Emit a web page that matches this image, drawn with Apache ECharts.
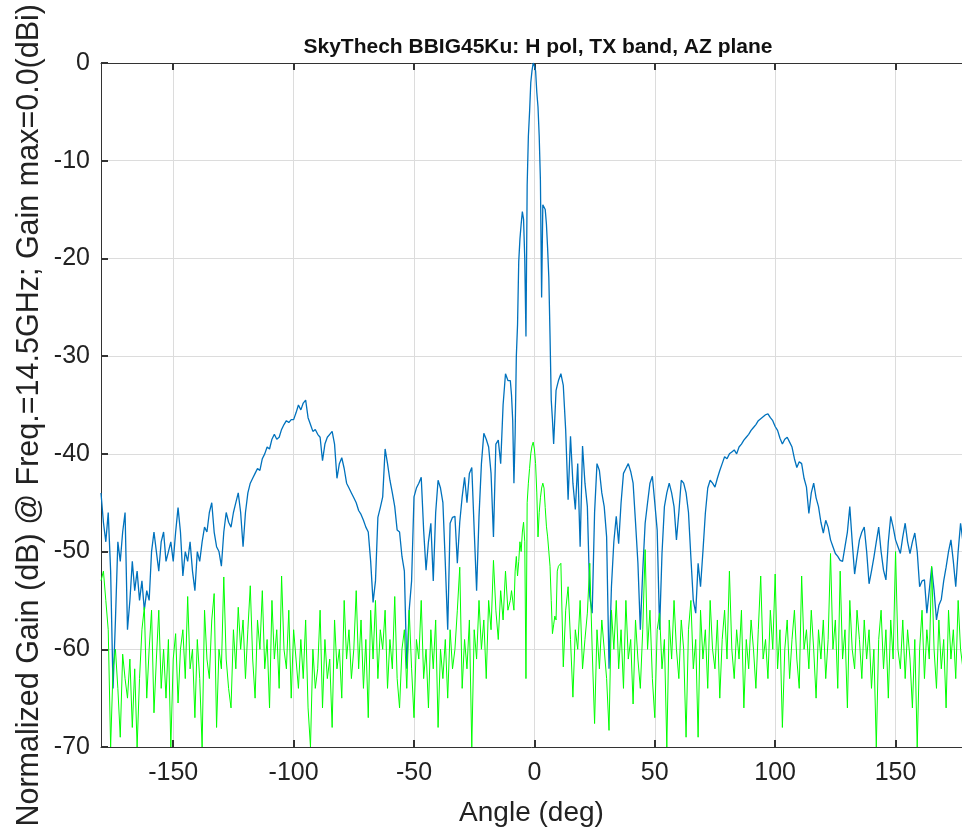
<!DOCTYPE html>
<html>
<head>
<meta charset="utf-8">
<title>SkyThech BBIG45Ku: H pol, TX band, AZ plane</title>
<script src="https://cdn.jsdelivr.net/npm/echarts@6/dist/echarts.min.js"></script>
<style>
  html, body { margin: 0; padding: 0; background: #fff; }
  #chart { width: 962px; height: 836px; }
</style>
</head>
<body>
<div id="chart"></div>
<script>
  // sample angles: 1 deg steps in the far field, 0.5 deg steps around the main beam
  const angles = []
  for (let a = -180; a <= -11; a++) angles.push(a)
  for (let a = -10; a <= 10; a += 0.5) angles.push(a)
  for (let a = 11; a <= 180; a++) angles.push(a)

  const xTicks = [-150, -100, -50, 0, 50, 100, 150]

  // co-pol (blue), -180 .. -11
  const coPolLeft = [
    -44, -47, -49, -46, -52, -64, -57, -49, -51, -48,
    -46, -58, -55, -51, -54, -52, -55, -53, -56, -54,
    -55, -50, -48, -50, -52, -49, -48, -51, -50, -49,
    -51, -48, -45.5, -48, -52.5, -50, -51, -49, -52, -54,
    -50, -51, -49, -47.5, -48, -46, -45, -48, -49.5, -50,
    -51.5, -48, -46, -47, -47.5, -46, -45, -44, -46, -49.5,
    -46, -44, -43, -42.5, -42, -41.5, -41.7, -40.5, -40, -39.3,
    -39.5, -38.5, -38, -38.5, -38.3, -37.5, -37, -36.6, -36.8, -36.5,
    -36.5, -35.8, -35, -35.5, -34.8, -34.5, -36.3, -37, -37.7, -37.5,
    -38, -38.3, -40.7, -39, -38.3, -38, -37.7, -39, -42.5, -41,
    -40.4, -41.5, -43, -43.5, -44, -44.5, -45, -45.8, -46.2, -46.8,
    -47.5, -48, -51, -55.2, -53, -46.5, -45.5, -44.4, -39.5, -41,
    -42.7, -44, -45.4, -47.8, -48, -50.5, -52, -62, -56, -53,
    -44.4, -43.5, -43, -42.4, -47.8, -51.9, -49, -47.1, -53, -46,
    -42.7, -43.5, -45, -51.2, -58, -47.1, -46.5, -46.4, -51.2, -47,
    -44.4, -42.4, -45, -42, -41.4, -47.8, -54, -46.4, -41, -37.9,
    -38.5, -39.3, -42, -48.5, -39, -38.6, -41, -35, -31.8, -32.5
  ]
  // co-pol, -10 .. 10 by 0.5
  const coPolCenter = [
    -32.5, -34, -36.6, -43, -38, -30, -26.8, -20.3, -18, -16.5,
    -15.2, -16, -20, -28, -12.5, -7.5, -5, -2, -0.8, 0,
    -0.3, -0.8, -3, -4.5, -7.5, -12, -24, -14.5, -14.3, -15,
    -16.5, -19, -22, -28, -34.5, -36.5, -39, -39.2, -33.5, -33,
    -32.5
  ]
  // co-pol, 11 .. 180
  const coPolRight = [
    -31.8, -33, -37.6, -44.7, -38.2, -43, -45.7, -41, -49.5, -39.2,
    -43, -45.4, -54.6, -56.3, -46, -41, -41.7, -44, -45.4, -48.5,
    -62, -53.6, -49, -46.4, -49.2, -45, -42, -41.5, -41, -41.8,
    -43, -47, -51.2, -58, -52, -47.1, -45, -43, -42.3, -45,
    -47.8, -58, -50.2, -45.4, -44, -43, -44, -45.4, -48.8, -46,
    -42.7, -43, -44, -46, -50.6, -55, -56.3, -51.2, -53.6, -50,
    -46.1, -43.5, -42.7, -43, -43.4, -42.5, -41.7, -41, -40.3, -40.5,
    -40, -39.8, -39.6, -40, -39.3, -39, -38.6, -38.3, -38, -37.6,
    -37.3, -37, -36.6, -36.4, -36.2, -36, -35.9, -36.3, -36.6, -37.2,
    -37.6, -38.4, -39, -38.5, -38.3, -38.8, -39.3, -40.5, -41.4, -40.8,
    -41, -42.5, -43.4, -46.1, -44, -43, -44.5, -45.4, -47, -48.1,
    -46.8, -47.5, -48.8, -49.5, -50.2, -50.5, -50.9, -51, -49.5, -48,
    -45.4, -49, -52.3, -50.5, -48.8, -48, -47.5, -50, -53.3, -52,
    -50.6, -49, -47.5, -50, -51.9, -52.9, -49, -46.4, -47.5, -48.8,
    -49.5, -50.2, -48.5, -47.1, -49, -50.2, -49, -48.1, -50, -53.6,
    -53, -52.9, -56.3, -54, -51.6, -54, -57, -55.5, -54.9, -53,
    -51.6, -50, -48.8, -51, -53.6, -50, -47.1, -49, -50.5, -52
  ]

  // cross-pol (green), -180 .. -11
  const xPolLeft = [
    -53, -52, -55, -58, -70, -62, -60, -64, -69, -60.5,
    -63, -65, -61, -68, -62, -70, -63, -58, -55.7, -65,
    -60, -56, -66.5, -61, -56, -64, -60, -65, -59, -70,
    -61, -58.4, -65.5, -60, -58, -63, -54.6, -62, -60, -67,
    -59, -63, -70, -56, -61, -63, -57, -54.3, -68, -60,
    -62, -52.6, -61, -64, -66, -58, -62, -55.7, -60, -57,
    -63, -58, -53.5, -61, -65, -57, -60, -54, -62, -59,
    -66, -55, -61, -58, -64, -52.5, -60, -62, -56, -65,
    -58, -61, -64, -59, -63, -57, -66, -70, -60, -64,
    -62, -56, -66, -59, -63, -61, -68, -57, -62, -60,
    -65, -55, -61, -58, -63, -60, -54, -62, -57, -64,
    -59, -67, -56, -61, -55, -63, -58, -60, -56, -64,
    -59, -62, -54.6, -63, -66, -60, -58, -64, -56, -62,
    -67, -59, -61, -55, -63, -60, -66, -58, -62, -57,
    -68, -60, -63, -59, -65, -58, -62, -60, -56, -51.6,
    -64, -59, -62, -57, -70, -58, -61, -55, -60, -57,
    -63, -55, -58, -50.9, -56, -59, -54, -57, -52, -56
  ]
  // cross-pol, -10 .. 10 by 0.5
  const xPolCenter = [
    -55, -54, -53.9, -56, -52, -50.5, -52.5, -51, -49, -50,
    -48, -47, -49, -63, -45, -43, -41.5, -40, -39.2, -38.8,
    -39.5, -41, -44, -48.5, -46, -44.5, -43.5, -43, -43.5, -45.5,
    -47.4, -48.5, -50, -51.5, -55, -58.4, -57.5, -56.6, -57, -52,
    -51.5
  ]
  // cross-pol, 11 .. 180
  const xPolRight = [
    -51.2, -61.8, -56, -53.6, -59, -64.9, -58, -60, -55, -62,
    -59, -56.3, -51.2, -60, -67.6, -58, -62, -57, -60, -63,
    -68.3, -56, -60, -55, -62, -58, -64, -55, -61, -59,
    -65.6, -57, -61, -64, -58, -49.8, -60, -56, -63, -67,
    -58, -56.3, -62, -59, -70, -57, -61, -55, -60, -63,
    -57, -60, -69, -58, -55, -62, -59, -69, -56, -61,
    -58, -64, -55, -60, -62, -57, -65, -59, -56, -61,
    -52, -60, -63, -58, -61, -56, -66, -59, -62, -57,
    -60, -64, -58, -52.5, -61, -59, -63, -56, -60, -52.3,
    -62, -58, -68, -60, -57, -63, -59, -56, -61, -64,
    -52.5, -60, -58, -62, -56, -60, -65, -58, -61, -57,
    -63, -59, -50.2, -60, -57, -64, -52, -61, -58, -66,
    -55, -60, -62, -56, -59, -63, -57, -61, -58, -64,
    -60, -70, -59, -56, -62, -58, -65, -57, -61, -50,
    -60, -62, -57, -63, -58, -61, -66, -59, -70, -60,
    -56, -63, -58, -61, -51.5, -60, -64, -57, -62, -59,
    -66, -56, -61, -58, -63, -55, -60, -62, -57, -59
  ]

  const coPol = coPolLeft.concat(coPolCenter, coPolRight)
  const xPol = xPolLeft.concat(xPolCenter, xPolRight)
  const toPairs = vals => angles.map((a, i) => [a, vals[i]])

  const font = 'Liberation Sans, Arial, Helvetica, sans-serif'
  // the source image is cropped just before +180 deg
  const xMax = 177.6
  const chart = echarts.init(document.getElementById('chart'))

  chart.setOption({
    animation: false,
    backgroundColor: '#fff',
    title: {
      text: 'SkyThech BBIG45Ku: H pol, TX band, AZ plane',
      left: 533,
      textAlign: 'center',
      top: 32,
      textStyle: { fontFamily: font, fontSize: 21, fontWeight: 'bold', color: '#111' }
    },
    grid: { left: 101, top: 63, right: 0, bottom: 89 },
    graphic: [{
      type: 'text',
      left: 14,
      top: 4,
      rotation: Math.PI / 2,
      style: {
        text: 'Normalized Gain (dB) @ Freq.=14.5GHz; Gain max=0.0(dBi)',
        font: '30.5px ' + font,
        fill: '#222'
      }
    }],
    xAxis: [{
      type: 'value',
      min: -180,
      max: xMax,
      name: 'Angle (deg)',
      nameLocation: 'middle',
      nameGap: 52,
      nameTextStyle: { fontFamily: font, fontSize: 28, color: '#222' },
      axisLine: { onZero: false, lineStyle: { color: '#333', width: 1 } },
      axisTick: { inside: true, length: 7, customValues: xTicks, lineStyle: { color: '#333', width: 2 } },
      axisLabel: { customValues: xTicks, fontFamily: font, fontSize: 25, color: '#222', margin: 14 },
      splitLine: { show: true, lineStyle: { color: '#dcdcdc', width: 1 } }
    }, {
      type: 'value',
      position: 'top',
      min: -180,
      max: xMax,
      axisLine: { onZero: false, lineStyle: { color: '#333', width: 1 } },
      axisTick: { inside: true, length: 7, customValues: xTicks, lineStyle: { color: '#333', width: 2 } },
      axisLabel: { show: false },
      splitLine: { show: false }
    }],
    yAxis: {
      type: 'value',
      min: -70,
      max: 0,
      interval: 10,
      axisLine: { show: true, onZero: false, lineStyle: { color: '#333', width: 1 } },
      axisTick: { show: true, inside: true, length: 7, lineStyle: { color: '#333', width: 2 } },
      axisLabel: { fontFamily: font, fontSize: 25, color: '#222', margin: 11 },
      splitLine: { show: true, lineStyle: { color: '#dcdcdc', width: 1 } }
    },
    series: [
      {
        name: 'Co-pol',
        type: 'line',
        data: toPairs(coPol),
        showSymbol: false,
        lineStyle: { color: '#0072BD', width: 1.3 },
        itemStyle: { color: '#0072BD' },
        z: 2
      },
      {
        name: 'Cross-pol',
        type: 'line',
        data: toPairs(xPol),
        showSymbol: false,
        lineStyle: { color: '#00FF00', width: 1 },
        itemStyle: { color: '#00FF00' },
        z: 3
      }
    ]
  })
</script>
</body>
</html>
